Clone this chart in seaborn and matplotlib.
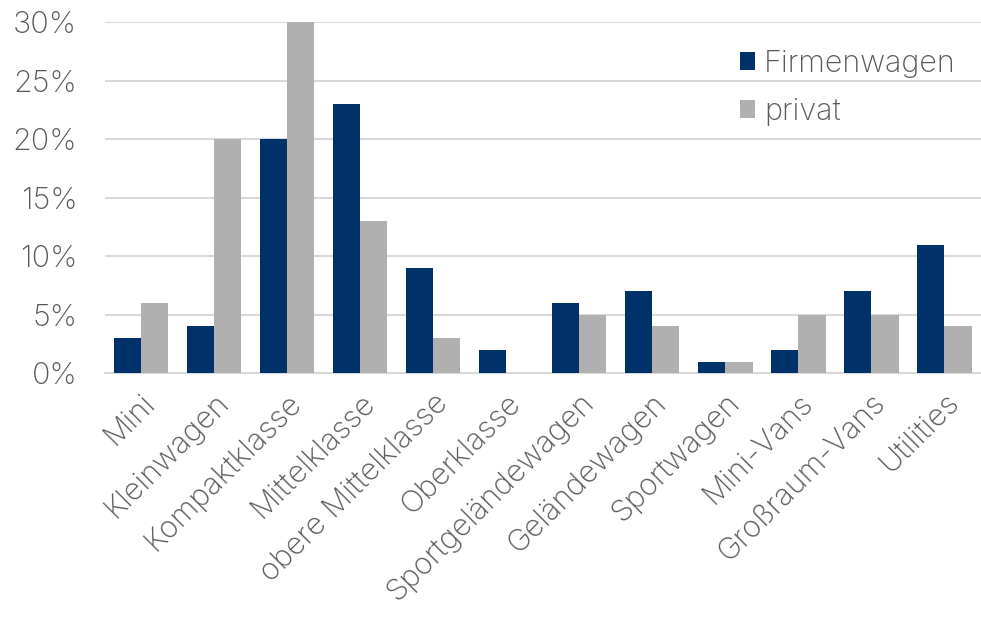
import matplotlib
matplotlib.use("Agg")
import matplotlib.pyplot as plt
import seaborn as sns
import pandas as pd
from matplotlib.ticker import PercentFormatter

categories = ["Mini", "Kleinwagen", "Kompaktklasse", "Mittelklasse", "obere Mittelklasse",
              "Oberklasse", "Sportgeländewagen", "Geländewagen", "Sportwagen", "Mini-Vans",
              "Großraum-Vans", "Utilities"]
firmenwagen = [3, 4, 20, 23, 9, 2, 6, 7, 1, 2, 7, 11]
privat = [6, 20, 30, 13, 3, 0, 5, 4, 1, 5, 5, 4]
series = ["Firmenwagen", "privat"]
yticks = [0, 5, 10, 15, 20, 25, 30]

df = pd.DataFrame({
    "Segment": categories * 2,
    "Anteil": firmenwagen + privat,
    "Gruppe": [series[0]] * len(categories) + [series[1]] * len(categories),
})

sns.set_theme(style="white")
plt.rcParams["font.family"] = ["Inter", "DejaVu Sans"]
plt.rcParams["font.weight"] = "light"
text_color = "#595959"
fs = 22

fig = plt.figure(figsize=(9.81, 6.19), dpi=100)
ax = fig.add_axes([0.107, 0.397, 0.893, 0.567])

sns.barplot(data=df, x="Segment", y="Anteil", hue="Gruppe", order=categories,
            hue_order=series, palette=["#003169", "#b0b0b0"], width=0.74,
            saturation=1, linewidth=0, ax=ax, zorder=3)

ax.set_ylim(0, 30)
ax.set_yticks(yticks)
ax.yaxis.set_major_formatter(PercentFormatter(decimals=0))
ax.grid(axis="y", color="#d9d9d9", linewidth=1.5, zorder=0)
ax.set_axisbelow(True)
for s in ["top", "right", "left"]:
    ax.spines[s].set_visible(False)
ax.spines["bottom"].set_color("#d9d9d9")
ax.spines["bottom"].set_linewidth(1.5)
ax.set_xlabel("")
ax.set_ylabel("")
ax.tick_params(axis="both", length=0, labelsize=fs, colors=text_color)
ax.tick_params(axis="y", pad=20)
ax.tick_params(axis="x", pad=11)
for lbl in ax.get_xticklabels():
    lbl.set_rotation(45)
    lbl.set_ha("right")
    lbl.set_rotation_mode("anchor")

leg = ax.legend(loc="upper left", bbox_to_anchor=(0.693, 1.0), frameon=False,
                fontsize=fs, handlelength=0.5, handleheight=0.5, handletextpad=0.3,
                labelspacing=0.65, labelcolor=text_color)

fig.savefig("out.png", dpi=100)
